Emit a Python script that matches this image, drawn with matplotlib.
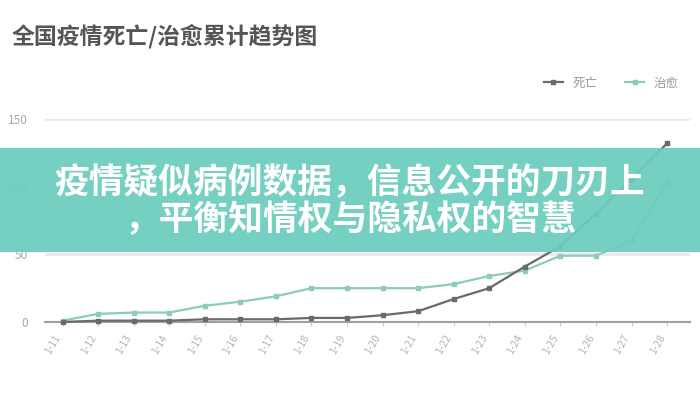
import matplotlib.pyplot as plt
from matplotlib.patches import Rectangle

plt.rcParams['font.family'] = ['Noto Sans CJK SC', 'DejaVu Sans']

dates = ['1-11', '1-12', '1-13', '1-14', '1-15', '1-16', '1-17', '1-18', '1-19',
         '1-20', '1-21', '1-22', '1-23', '1-24', '1-25', '1-26', '1-27', '1-28']
deaths = [0, 1, 1, 1, 2, 2, 2, 3, 3, 5, 8, 17, 25, 41, 56, 80, 106, 132]
cured = [1, 6, 7, 7, 12, 15, 19, 25, 25, 25, 25, 28, 34, 38, 49, 49, 60, 103]
yticks = [0, 50, 100, 150]

title = '全国疫情死亡/治愈累计趋势图'
banner = '疫情疑似病例数据，信息公开的刀刃上\n，平衡知情权与隐私权的智慧'

fig = plt.figure(figsize=(7, 4), dpi=100)
ax = fig.add_axes([0.064, 0.195, 0.922, 0.5075])

x = list(range(len(dates)))
ax.plot(x, cured, color='#8ccbbd', lw=1.6, marker='s', ms=3.5, label='治愈', clip_on=False, zorder=3)
ax.plot(x, deaths, color='#6a6a6a', lw=1.6, marker='s', ms=3.5, label='死亡', clip_on=False, zorder=4)

ax.set_xlim(-0.5, 17.65)
ax.set_ylim(0, 150)
ax.set_yticks(yticks)
ax.set_xticks(x)
ax.set_xticklabels(dates, rotation=60, ha='right', fontsize=7.5, color='#b5b5b5')
ax.tick_params(axis='y', length=0, labelsize=8.5, labelcolor='#a8a8a8', pad=12)
ax.tick_params(axis='x', length=3, color='#cccccc', pad=5)
ax.grid(axis='y', color='#e8e8e8', lw=1.8)
ax.set_axisbelow(True)
for s in ['top', 'right', 'left']:
    ax.spines[s].set_visible(False)
ax.spines['bottom'].set_color('#a0a0a0')
ax.spines['bottom'].set_linewidth(1.5)

handles, labels = ax.get_legend_handles_labels()
ax.legend(handles[::-1], labels[::-1], loc='center right', bbox_to_anchor=(1.0, 1.177),
          ncol=2, frameon=False, fontsize=9, labelcolor='#9a9a9a', handlelength=1.5,
          columnspacing=2.2, handletextpad=0.8)

fig.text(0.017, 0.91, title, fontsize=16.5, color='#555555', fontweight='heavy', va='center')

fig.patches.append(Rectangle((0, 0.37), 1, 0.26, transform=fig.transFigure,
                             facecolor='#6ccdbe', alpha=0.93, edgecolor='none', zorder=10))
fig.text(0.5, 0.497, banner, ha='center', va='center', fontsize=25, color='white',
         fontweight='heavy', linespacing=1.05, zorder=11)

fig.savefig('out.png', dpi=100)
